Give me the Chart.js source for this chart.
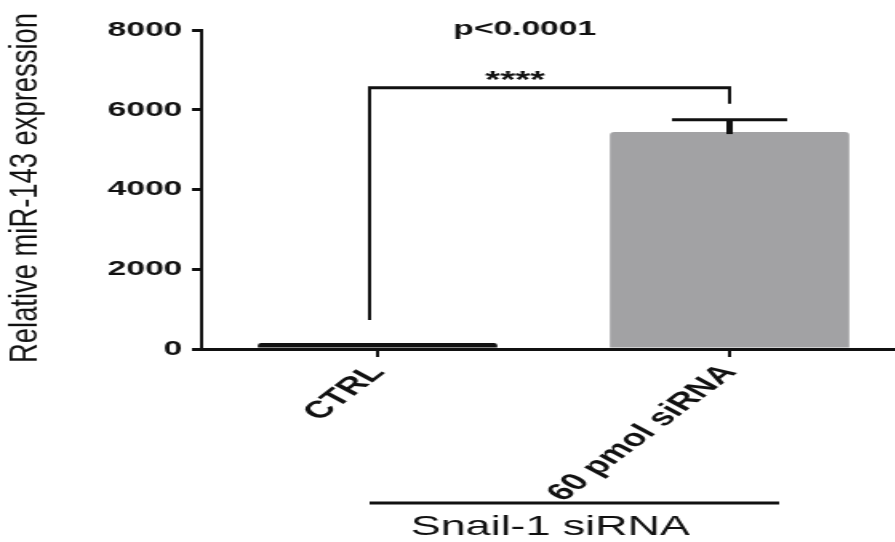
<!DOCTYPE html>
<html lang="en">
<head>
<meta charset="UTF-8">
<title>Relative miR-143 expression</title>
<script src="https://cdn.jsdelivr.net/npm/chart.js"></script>
<style>
  html, body { margin: 0; padding: 0; background: #fff; overflow: hidden; }
  #chart { display: block; }
</style>
</head>
<body>
<!-- the figure is stretched sideways, so the canvas is drawn narrow and widened by css -->
<canvas id="chart" width="570" height="542" style="width:912px;height:542px"></canvas>
<script>
var labels = ['CTRL', '60 pmol siRNA'];
var means = [150, 5440];
var sd = [0, 310];
var barColors = ['#111111', '#a2a2a4'];
var yTicks = [0, 2000, 4000, 6000, 8000];
var bracketTop = 6550;
var bracketLegs = [725, 6150];
var pText = 'p<0.0001';
var starText = '****';
var groupText = 'Snail-1 siRNA';
var yTitle = 'Relative miR-143 expression';

var F = "'Liberation Sans', Arial, sans-serif";
var INK = '#111';

var extras = {
  id: 'extras',
  afterDraw: function (chart) {
    var ctx = chart.ctx;
    var y = chart.scales.y;
    var meta = chart.getDatasetMeta(0);
    ctx.save();
    ctx.strokeStyle = INK;
    ctx.fillStyle = INK;

    // error bars (upper only)
    meta.data.forEach(function (bar, i) {
      if (!sd[i]) return;
      var top = y.getPixelForValue(means[i] + sd[i]);
      ctx.lineWidth = 4;
      ctx.beginPath();
      ctx.moveTo(bar.x, bar.y + 2);
      ctx.lineTo(bar.x, top);
      ctx.stroke();
      ctx.lineWidth = 3;
      ctx.beginPath();
      ctx.moveTo(bar.x - 36, top);
      ctx.lineTo(bar.x + 36, top);
      ctx.stroke();
    });

    // significance bracket
    var x0 = meta.data[0].x - 5, x1 = meta.data[1].x;
    var yb = y.getPixelForValue(bracketTop);
    ctx.lineWidth = 2;
    ctx.beginPath();
    ctx.moveTo(x0, y.getPixelForValue(bracketLegs[0]));
    ctx.lineTo(x0, yb);
    ctx.moveTo(x1, y.getPixelForValue(bracketLegs[1]));
    ctx.lineTo(x1, yb);
    ctx.stroke();
    ctx.lineWidth = 3;
    ctx.beginPath();
    ctx.moveTo(x0 - 1, yb);
    ctx.lineTo(x1 + 1, yb);
    ctx.stroke();

    ctx.textAlign = 'center';
    ctx.textBaseline = 'alphabetic';
    ctx.font = 'bold 24px ' + F;
    ctx.fillText(starText, 322, 88);
    ctx.font = 'bold 21px ' + F;
    ctx.fillText(pText, 328, 35);

    // group line under the labels
    ctx.lineWidth = 3;
    ctx.beginPath();
    ctx.moveTo(231, 503);
    ctx.lineTo(487, 503);
    ctx.stroke();
    ctx.font = '28px ' + F;
    ctx.fillText(groupText, 344, 535);

    // y title, longer than the font alone gives
    ctx.translate(17, 188);
    ctx.rotate(-Math.PI / 2);
    ctx.scale(1.19, 1);
    ctx.font = '23px ' + F;
    ctx.textBaseline = 'middle';
    ctx.fillText(yTitle, 0, 0);
    ctx.restore();
  }
};

new Chart(document.getElementById('chart'), {
  type: 'bar',
  data: {
    labels: labels,
    datasets: [{
      data: means,
      backgroundColor: barColors,
      borderWidth: 0,
      borderRadius: 3,
      borderSkipped: 'bottom',
      barPercentage: 0.68,
      categoryPercentage: 1
    }]
  },
  options: {
    responsive: false,
    animation: false,
    devicePixelRatio: 1,
    layout: { padding: { left: 0, top: 30, right: 4, bottom: 0 } },
    plugins: { legend: { display: false }, tooltip: { enabled: false } },
    scales: {
      x: {
        grid: { drawOnChartArea: false, offset: false, tickLength: 8, color: INK, lineWidth: 2 },
        border: { color: INK, width: 3 },
        ticks: {
          color: INK,
          font: { family: F, size: 24, weight: 'bold' },
          minRotation: 50,
          maxRotation: 50,
          padding: 2
        },
        afterFit: function (s) { s.height = 193; }
      },
      y: {
        min: 0,
        max: 8000,
        afterBuildTicks: function (s) { s.ticks = yTicks.map(function (v) { return { value: v }; }); },
        grid: { drawOnChartArea: false, tickLength: 6, color: INK, lineWidth: 3 },
        border: { color: INK, width: 2 },
        ticks: {
          color: INK,
          font: { family: F, size: 21, weight: 'bold' },
          padding: 6,
          callback: function (v) { return String(v); }
        },
        afterFit: function (s) { s.width = 126; }
      }
    }
  },
  plugins: [extras]
});
</script>
</body>
</html>
